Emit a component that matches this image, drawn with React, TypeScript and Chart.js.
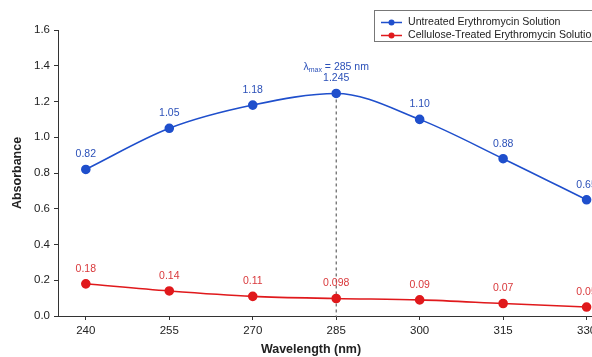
import { useEffect, useRef } from "react";
import { Chart, registerables } from "chart.js";

Chart.register(...registerables);

// Wavelengths scanned (nm)
const wavelengths = [240, 255, 270, 285, 300, 315, 330];

// Absorbance readings
const untreated = [0.82, 1.05, 1.18, 1.245, 1.1, 0.88, 0.65];
const treated = [0.18, 0.14, 0.11, 0.098, 0.09, 0.07, 0.05];

// Printed value labels
const untreatedLabels = ["0.82", "1.05", "1.18", "1.245", "1.10", "0.88", "0.65"];
const treatedLabels = ["0.18", "0.14", "0.11", "0.098", "0.09", "0.07", "0.05"];

const yTicks = [0, 0.2, 0.4, 0.6, 0.8, 1.0, 1.2, 1.4, 1.6];
const peakWavelength = 285;
const peakAbsorbance = 1.245;

const seriesNames = [
  "Untreated Erythromycin Solution",
  "Cellulose-Treated Erythromycin Solution",
];

const BLUE = "#1f4fcc";
const BLUE_TEXT = "#2b50b8";
const RED = "#e0191c";
const RED_TEXT = "#d9393c";
const AXIS = "#333333";
const FONT = "'Liberation Sans', Arial, sans-serif";

export default function App() {
  const ref = useRef<HTMLCanvasElement>(null);

  useEffect(() => {
    const canvas = ref.current;
    if (!canvas) return;

    const valueLabels = {
      id: "valueLabels",
      afterDatasetsDraw(chart: any) {
        const ctx = chart.ctx;
        const sets = [
          { labels: untreatedLabels, color: BLUE_TEXT },
          { labels: treatedLabels, color: RED_TEXT },
        ];
        ctx.save();
        ctx.font = `10.5px ${FONT}`;
        ctx.textAlign = "center";
        ctx.textBaseline = "alphabetic";
        sets.forEach((s, di) => {
          const meta = chart.getDatasetMeta(di);
          meta.data.forEach((pt: any, i: number) => {
            ctx.fillStyle = s.color;
            ctx.fillText(s.labels[i], pt.x, pt.y - 12);
          });
        });
        ctx.restore();
      },
    };

    const peakMarker = {
      id: "peakMarker",
      beforeDatasetsDraw(chart: any) {
        const { ctx, scales } = chart;
        const x = scales.x.getPixelForValue(peakWavelength);
        const yTop = scales.y.getPixelForValue(peakAbsorbance);
        const yBottom = scales.y.getPixelForValue(0);
        ctx.save();
        ctx.strokeStyle = "#444";
        ctx.lineWidth = 1;
        ctx.setLineDash([3, 3]);
        ctx.beginPath();
        ctx.moveTo(x, yTop);
        ctx.lineTo(x, yBottom);
        ctx.stroke();
        ctx.restore();
      },
      afterDatasetsDraw(chart: any) {
        const { ctx, scales } = chart;
        const x = scales.x.getPixelForValue(peakWavelength);
        const y = scales.y.getPixelForValue(peakAbsorbance) - 23;
        ctx.save();
        ctx.fillStyle = BLUE_TEXT;
        ctx.textBaseline = "alphabetic";
        ctx.textAlign = "left";
        const big = `10.5px ${FONT}`;
        const small = `7px ${FONT}`;
        const rest = " = 285 nm";
        ctx.font = big;
        const wL = ctx.measureText("λ").width;
        const wR = ctx.measureText(rest).width;
        ctx.font = small;
        const wS = ctx.measureText("max").width;
        let cx = x - (wL + wS + wR) / 2;
        ctx.font = big;
        ctx.fillText("λ", cx, y);
        cx += wL;
        ctx.font = small;
        ctx.fillText("max", cx, y + 2);
        cx += wS;
        ctx.font = big;
        ctx.fillText(rest, cx, y);
        ctx.restore();
      },
    };

    const boxedLegend = {
      id: "boxedLegend",
      afterDraw(chart: any) {
        const ctx = chart.ctx;
        const left = 374;
        const top = 10;
        ctx.save();
        ctx.fillStyle = "#ffffff";
        ctx.fillRect(left, top, 300, 31);
        ctx.strokeStyle = "#777";
        ctx.lineWidth = 1;
        ctx.strokeRect(left + 0.5, top + 0.5, 300, 31);
        const colors = [BLUE, RED];
        ctx.font = `10.6px ${FONT}`;
        ctx.textBaseline = "middle";
        ctx.textAlign = "left";
        seriesNames.forEach((name, i) => {
          const y = top + 12.5 + i * 13;
          ctx.strokeStyle = colors[i];
          ctx.lineWidth = 1.5;
          ctx.beginPath();
          ctx.moveTo(left + 7, y);
          ctx.lineTo(left + 28, y);
          ctx.stroke();
          ctx.fillStyle = colors[i];
          ctx.beginPath();
          ctx.arc(left + 17.5, y, 3, 0, Math.PI * 2);
          ctx.fill();
          ctx.fillStyle = "#222";
          ctx.fillText(name, left + 34, y);
        });
        ctx.restore();
      },
    };

    const axisTitles = {
      id: "axisTitles",
      afterDraw(chart: any) {
        const ctx = chart.ctx;
        ctx.save();
        ctx.fillStyle = "#222";
        ctx.font = `bold 12.5px ${FONT}`;
        ctx.textAlign = "center";
        ctx.textBaseline = "alphabetic";
        ctx.fillText("Wavelength (nm)", 311, 353);
        ctx.translate(21, 173);
        ctx.rotate(-Math.PI / 2);
        ctx.fillText("Absorbance", 0, 0);
        ctx.restore();
      },
    };

    const chart = new Chart(canvas, {
      type: "line",
      data: {
        datasets: [
          {
            label: seriesNames[0],
            data: wavelengths.map((w, i) => ({ x: w, y: untreated[i] })),
            borderColor: BLUE,
            backgroundColor: BLUE,
            borderWidth: 1.6,
            pointRadius: 4,
            pointHoverRadius: 4,
            cubicInterpolationMode: "monotone",
          },
          {
            label: seriesNames[1],
            data: wavelengths.map((w, i) => ({ x: w, y: treated[i] })),
            borderColor: RED,
            backgroundColor: RED,
            borderWidth: 1.6,
            pointRadius: 4,
            pointHoverRadius: 4,
            cubicInterpolationMode: "monotone",
          },
        ],
      },
      options: {
        responsive: false,
        animation: false,
        devicePixelRatio: 1,
        layout: { padding: { top: 30, right: 4, left: 0, bottom: 0 } },
        plugins: {
          legend: { display: false },
          tooltip: { enabled: false },
        },
        scales: {
          x: {
            type: "linear",
            min: 235,
            max: 335,
            afterBuildTicks: (scale: any) => {
              scale.ticks = wavelengths.map((v) => ({ value: v }));
            },
            afterFit: (scale: any) => {
              scale.height = 41;
            },
            grid: {
              drawOnChartArea: false,
              drawTicks: true,
              tickLength: 4,
              color: AXIS,
            },
            border: { display: true, color: AXIS, width: 1 },
            ticks: {
              color: "#222",
              font: { family: FONT, size: 11.5 },
              padding: 4,
              maxRotation: 0,
              autoSkip: false,
            },
          },
          y: {
            type: "linear",
            min: 0,
            max: 1.6,
            afterBuildTicks: (scale: any) => {
              scale.ticks = yTicks.map((v) => ({ value: v }));
            },
            afterFit: (scale: any) => {
              scale.width = 58;
            },
            grid: {
              drawOnChartArea: false,
              drawTicks: true,
              tickLength: 4,
              color: AXIS,
            },
            border: { display: true, color: AXIS, width: 1 },
            ticks: {
              color: "#222",
              font: { family: FONT, size: 11.5 },
              padding: 4,
              callback: (v: any) => Number(v).toFixed(1),
            },
          },
        },
      },
      plugins: [peakMarker, valueLabels, boxedLegend, axisTitles],
    });

    return () => chart.destroy();
  }, []);

  return (
    <div
      style={{
        position: "fixed",
        left: 0,
        top: 0,
        width: 592,
        height: 357,
        overflow: "hidden",
        background: "#ffffff",
      }}
    >
      <canvas ref={ref} width={620} height={357} style={{ display: "block" }} />
    </div>
  );
}
